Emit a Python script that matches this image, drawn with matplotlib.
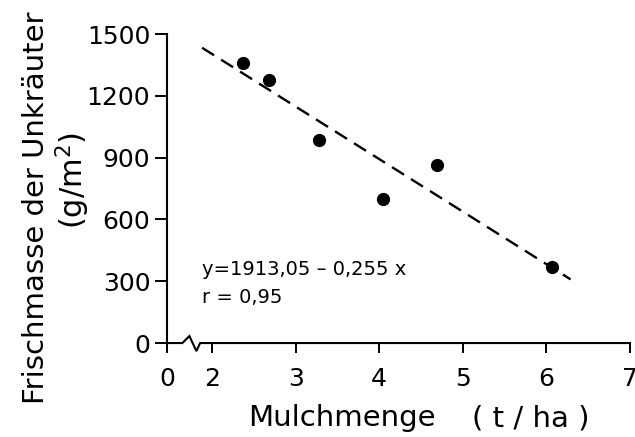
import numpy as np
import matplotlib
matplotlib.use("Agg")
import matplotlib.pyplot as plt

# data
mulch = [2.37, 2.68, 3.28, 4.05, 4.69, 6.07]          # t/ha
frischmasse = [1360, 1277, 985, 697, 864, 370]         # g/m2
intercept = 1913.05
slope = -0.255 * 1000                                   # per t/ha (kg/ha in the equation)
line_x = [1.88, 6.29]

xticks = [2, 3, 4, 5, 6, 7]
yticks = [0, 300, 600, 900, 1200, 1500]
x_origin = 1.46  # where the "0" sits on the broken axis

plt.rcParams["font.family"] = "DejaVu Sans"

fig = plt.figure(figsize=(6.35, 4.37), dpi=100)
ax = fig.add_axes([0.263, 0.215, 0.729, 0.707])

ax.plot(mulch, frischmasse, "o", color="black", markersize=8.5, zorder=3)
lx = np.array(line_x)
ax.plot(lx, intercept + slope * lx, color="black", lw=1.7,
        dashes=(6, 3.5), zorder=2)

ax.set_xlim(x_origin, 7)
ax.set_ylim(0, 1500)
ax.set_xticks([x_origin] + xticks)
ax.set_xticklabels(["0"] + [str(t) for t in xticks])
ax.set_yticks(yticks)

for s in ["top", "right", "bottom"]:
    ax.spines[s].set_visible(False)
ax.spines["left"].set_linewidth(1.5)

# bottom axis with break
bx = [x_origin, 1.644, 1.728, 1.812, 1.856, 7]
by = [0, 0, 34, -39, 0, 0]
ax.plot(bx, by, color="black", lw=1.5, clip_on=False, zorder=4,
        solid_joinstyle="miter")

ax.tick_params(axis="y", direction="out", length=9, width=1.4,
               labelsize=18, pad=3)
ax.tick_params(axis="x", direction="out", length=7, width=1.4,
               labelsize=18, pad=10)

ax.text(1.88, 330, "y=1913,05 – 0,255 x", fontsize=14, va="baseline")
ax.text(1.88, 194, "r = 0,95", fontsize=14, va="baseline")

fig.text(0.057, 0.524, "Frischmasse der Unkräuter", rotation=90,
         ha="center", va="center", fontsize=21)
fig.text(0.115, 0.588, "(g/m$^2$)", rotation=90,
         ha="center", va="center", fontsize=22)
fig.text(248 / 635, 0.043, "Mulchmenge", ha="left",
         va="center", fontsize=21)
fig.text(590 / 635, 0.043, "( t / ha )", ha="right",
         va="center", fontsize=21)

fig.savefig("out.png", dpi=100)
